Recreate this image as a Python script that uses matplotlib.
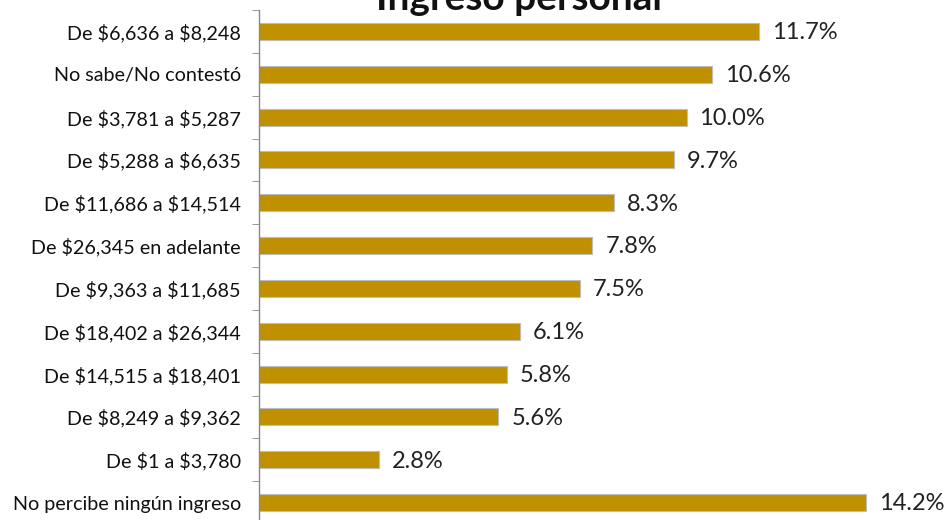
import matplotlib.pyplot as plt
import numpy as np

categorias = [
    "De $6,636 a $8,248",
    "No sabe/No contestó",
    "De $3,781 a $5,287",
    "De $5,288 a $6,635",
    "De $11,686 a $14,514",
    "De $26,345 en adelante",
    "De $9,363 a $11,685",
    "De $18,402 a $26,344",
    "De $14,515 a $18,401",
    "De $8,249 a $9,362",
    "De $1 a $3,780",
    "No percibe ningún ingreso",
]
porcentajes = [11.7, 10.6, 10.0, 9.7, 8.3, 7.8, 7.5, 6.1, 5.8, 5.6, 2.8, 14.2]

plt.rcParams["font.family"] = ["Lato", "DejaVu Sans"]
plt.rcParams["text.parse_math"] = False

fig = plt.figure(figsize=(9.49, 5.2), dpi=100)
ax = fig.add_axes([259 / 949, 1 - 524 / 520, 1 - 259 / 949, 514 / 520])

y = np.arange(len(categorias))
ax.barh(y, porcentajes, height=0.4, color="#BF9000", edgecolor="#BDBDBD", linewidth=0.8)

for yi, v in zip(y, porcentajes):
    ax.text(v + 0.3, yi + 0.03, f"{v:.1f}%", va="center", ha="left", fontsize=17, color="#222222")

ax.set_xlim(0, 690 / 42.75)
ax.set_ylim(len(categorias) - 0.5, -0.5)
ax.set_yticks(y)
ax.set_yticklabels(categorias, fontsize=14.2, color="#111111")
ax.set_yticks(np.arange(len(categorias) + 1) - 0.5, minor=True)
ax.tick_params(axis="y", which="major", length=0, pad=13)
ax.tick_params(axis="y", which="minor", length=5, color="#888888")
ax.set_xticks([])

for s in ["top", "right", "bottom"]:
    ax.spines[s].set_visible(False)
ax.spines["left"].set_color("#888888")
ax.spines["left"].set_linewidth(1.0)

fig.text(0.547, 1 - 10 / 520, "Ingreso personal", ha="center", va="baseline",
         fontsize=28, fontweight="bold", color="#111111")

fig.savefig("out.png", dpi=100)
